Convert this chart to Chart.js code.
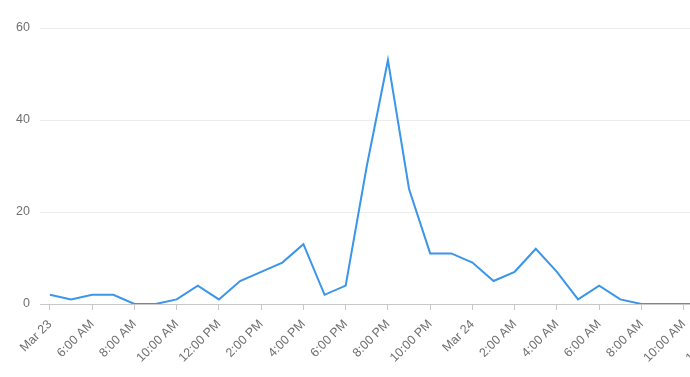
<!DOCTYPE html>
<html lang="en">
<head>
  <meta charset="UTF-8" />
  <title>Hourly count</title>
  <script src="https://cdn.jsdelivr.net/npm/chart.js"></script>
  <style>
    html, body { margin: 0; padding: 0; background: #fff; }
    #wrap { width: 690px; height: 377px; }
  </style>
</head>
<body>
  <div id="wrap"><canvas id="grafica"></canvas></div>
  <script>
    // hourly values from Mar 23 4:00 AM
    const valores = [2, 1, 2, 2, 0, 0, 1, 4, 1, 5, 7, 9, 13, 2, 4, 30, 53, 25, 11, 11, 9, 5, 7, 12, 7, 1, 4, 1, 0, 0, 0, 0];
    const etiquetas = ['Mar 23', '6:00 AM', '8:00 AM', '10:00 AM', '12:00 PM', '2:00 PM', '4:00 PM', '6:00 PM',
      '8:00 PM', '10:00 PM', 'Mar 24', '2:00 AM', '4:00 AM', '6:00 AM', '8:00 AM', '10:00 AM', '12:00 PM'];
    const yTicks = [0, 20, 40, 60];

    const puntos = valores.map((v, i) => ({ x: i, y: v }));
    const gris = '#707070';

    new Chart(document.getElementById('grafica'), {
      type: 'line',
      data: {
        datasets: [{
          data: puntos,
          borderColor: '#3b95e9',
          borderWidth: 2,
          pointRadius: 0,
          tension: 0,
          fill: false
        }]
      },
      options: {
        responsive: true,
        maintainAspectRatio: false,
        animation: false,
        layout: { padding: { top: 28, left: 0, right: 0, bottom: 0 } },
        plugins: { legend: { display: false }, tooltip: { enabled: false } },
        scales: {
          x: {
            type: 'linear',
            min: -0.47,
            max: 30.3,
            afterBuildTicks: s => { s.ticks = etiquetas.map((_, i) => ({ value: i * 2 })); },
            afterFit: s => { s.height = 73; s.paddingLeft = 0; s.paddingRight = 0; },
            grid: { drawOnChartArea: false, drawTicks: true, tickLength: 6, color: '#c8c8c8' },
            border: { display: true, color: '#c8c8c8', width: 1 },
            ticks: {
              autoSkip: false,
              minRotation: 45,
              maxRotation: 45,
              padding: 7,
              color: gris,
              font: { family: 'Liberation Sans, Arial, sans-serif', size: 12.5 },
              callback: v => etiquetas[v / 2] || ''
            }
          },
          y: {
            min: 0,
            max: 60,
            afterBuildTicks: s => { s.ticks = yTicks.map(v => ({ value: v })); },
            afterFit: s => { s.width = 40; },
            grid: { color: c => c.tick && c.tick.value === 0 ? '#c8c8c8' : '#ececec', drawTicks: false },
            border: { display: false },
            ticks: {
              padding: 10,
              color: gris,
              font: { family: 'Liberation Sans, Arial, sans-serif', size: 12.5 }
            }
          }
        }
      }
    });
  </script>
</body>
</html>
